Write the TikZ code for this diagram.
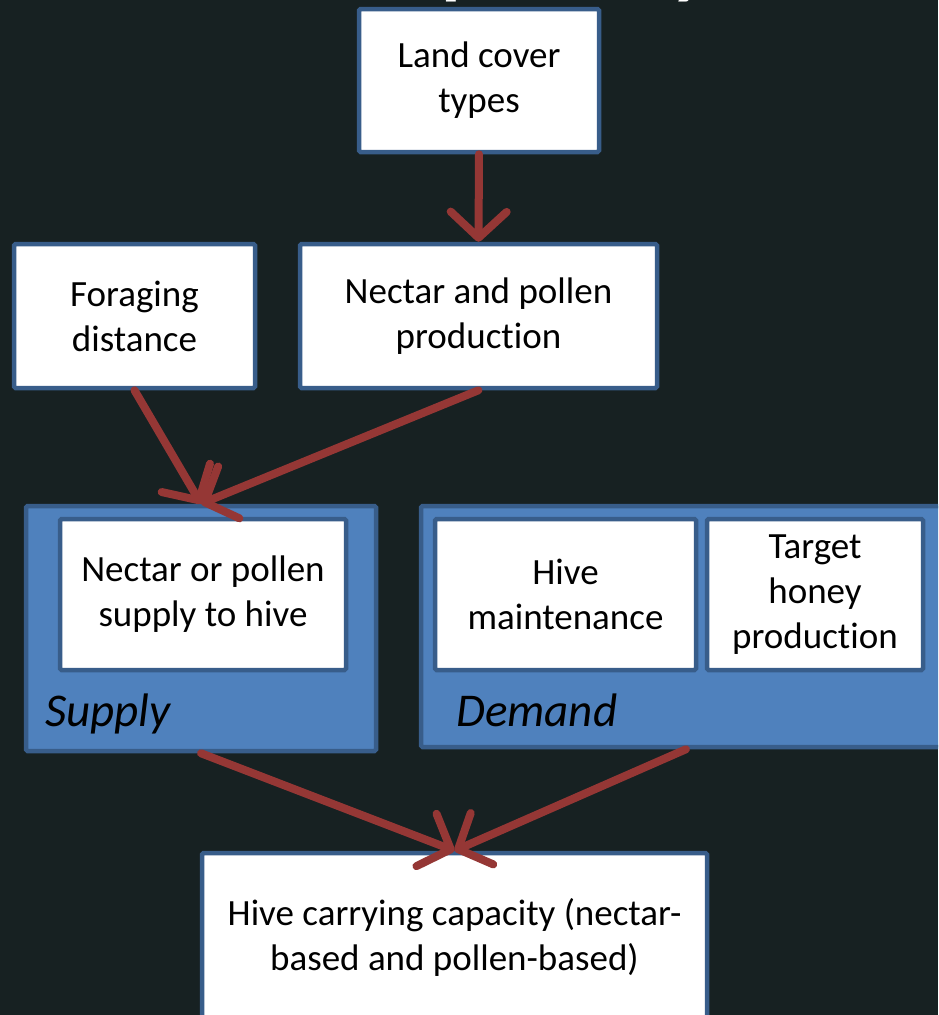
\documentclass[tikz,border=0pt]{standalone}
\usepackage{fontspec}
\setmainfont[Ligatures={NoCommon}]{Carlito}
\usetikzlibrary{arrows.meta}
\definecolor{bgc}{RGB}{23,33,34}
\definecolor{bord}{RGB}{56,93,138}
\definecolor{blfill}{RGB}{79,129,189}
\definecolor{arr}{RGB}{149,55,53}
\tikzset{
  wbox/.style={draw=bord, line width=4.5pt, fill=white, rounded corners=1.5pt, inner sep=0pt, align=center,
    font=\fontsize{37}{45}\selectfont, text=black},
  cbox/.style={draw=bord, line width=4.5pt, fill=blfill, rounded corners=1.5pt, inner sep=0pt},
  grp/.style={font=\fontsize{47}{56}\selectfont\itshape, text=black, anchor=base west, inner sep=0pt},
  link/.style={draw=arr, line width=8pt, line cap=round, -{Straight Barb[length=26pt, width=56pt, round]}},
}
\begin{document}
\begin{tikzpicture}[x=1pt, y=-1pt]
\useasboundingbox (0,0) rectangle (938,1015);
\clip (0,0) rectangle (938,1015);
\fill[bgc] (0,0) rectangle (938,1015);
\node[white, font=\fontsize{115}{130}\selectfont, anchor=base west, inner sep=0pt] (title) at (335,-16.5) {capacity};
\node[wbox, minimum width=240pt, minimum height=143pt] (land) at (479,80.5) {Land cover\\types};
\node[wbox, minimum width=241pt, minimum height=144pt] (forag) at (134.5,316) {Foraging\\distance};
\node[wbox, minimum width=357pt, minimum height=144pt] (nect) at (478.5,316) {Nectar and pollen\\production};
\node[cbox, minimum width=350pt, minimum height=245pt] (supc) at (201,628.5) {};
\node[cbox, minimum width=530pt, minimum height=241pt] (demc) at (686,626.5) {};
\node[wbox, minimum width=286pt, minimum height=151pt] (sup) at (203,594.5) {Nectar or pollen\\supply to hive};
\node[wbox, minimum width=261pt, minimum height=151pt] (hive) at (565.5,594.5) {Hive\\maintenance};
\node[wbox, minimum width=216pt, minimum height=151pt] (targ) at (815,594.5) {Target\\honey\\production};
\node[grp] (suplab) at (45,726) {Supply};
\node[grp] (demlab) at (456,726) {Demand};
\node[wbox, minimum width=505pt, minimum height=169pt] (cap) at (454.5,937.5) {Hive carrying capacity (nectar-\\based and pollen-based)};
\draw[link] (land.south) -- (nect.north);
\draw[link] (forag.south) -- (supc.north);
\draw[link] (nect.south) -- (supc.north);
\draw[link] (supc.south) -- (cap.north);
\draw[link] (demc.south) -- (cap.north);
\end{tikzpicture}
\end{document}
